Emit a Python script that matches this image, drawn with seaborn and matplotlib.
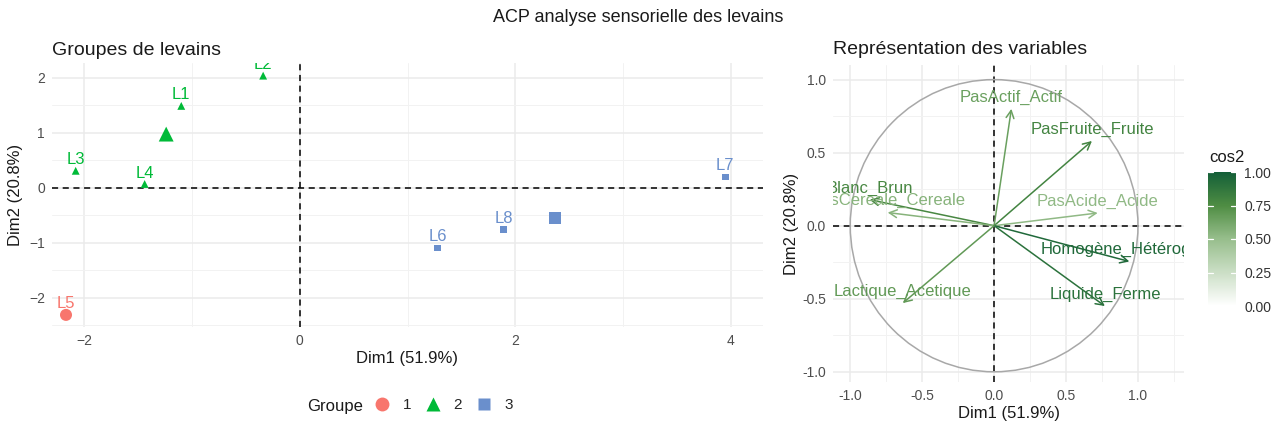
import numpy as np
import pandas as pd
import matplotlib
matplotlib.use('Agg')
import matplotlib.pyplot as plt
from matplotlib.colors import LinearSegmentedColormap, Normalize
from matplotlib.lines import Line2D
from matplotlib.patches import Circle
from matplotlib.ticker import MultipleLocator, FormatStrFormatter
from matplotlib.transforms import offset_copy
import seaborn as sns

# ============================================================
# Data
# ============================================================
individus = ['L1', 'L2', 'L3', 'L4', 'L5', 'L6', 'L7', 'L8']
ind_dim1 = [-1.10, -0.34, -2.08, -1.44, -2.17, 1.28, 3.95, 1.89]
ind_dim2 = [1.49, 2.04, 0.31, 0.07, -2.31, -1.09, 0.20, -0.76]
groupe = ['2', '2', '2', '2', '1', '3', '3', '3']

variables = ['PasActif_Actif', 'PasFruite_Fruite', 'Blanc_Brun', 'PasCereale_Cereale',
             'PasAcide_Acide', 'Homogène_Hétérogène', 'Liquide_Ferme', 'Lactique_Acetique']
var_dim1 = [0.12, 0.68, -0.865, -0.74, 0.72, 0.94, 0.77, -0.635]
var_dim2 = [0.80, 0.58, 0.178, 0.09, 0.087, -0.245, -0.55, -0.53]

group_order = ['1', '2', '3']
group_colors = {'1': '#F8766D', '2': '#00BA38', '3': '#6A8FCC'}
group_markers = {'1': 'o', '2': '^', '3': 's'}
small_sizes = {'1': 30, '2': 32, '3': 22}
big_sizes = {'1': 75, '2': 115, '3': 75}

df_ind = pd.DataFrame({'ind': individus, 'Dim1': ind_dim1, 'Dim2': ind_dim2, 'Groupe': groupe})
centres = df_ind.groupby('Groupe')[['Dim1', 'Dim2']].mean().reset_index()

df_var = pd.DataFrame({'var': variables, 'Dim1': var_dim1, 'Dim2': var_dim2})
df_var['cos2'] = df_var['Dim1'] ** 2 + df_var['Dim2'] ** 2

# ============================================================
# Figure
# ============================================================
sns.set_style('whitegrid')
plt.rcParams['font.family'] = ['Liberation Sans', 'DejaVu Sans']

W, H = 1276, 428
fig = plt.figure(figsize=(W / 100, H / 100), dpi=100)


def box(l, t, r, b):
    return [l / W, 1 - b / H, (r - l) / W, (b - t) / H]


def style_axis(ax):
    for s in ax.spines.values():
        s.set_visible(False)
    ax.grid(True, which='major', color='#EBEBEB', linewidth=1.1)
    ax.grid(True, which='minor', color='#F2F2F2', linewidth=0.7)
    ax.tick_params(axis='both', which='major', length=3, width=0.8, color='#333333',
                   labelcolor='#4D4D4D', labelsize=10, pad=2)
    ax.tick_params(axis='both', which='minor', length=0)
    ax.set_axisbelow(True)


# ---- Left panel : individuals ----
ax1 = fig.add_axes(box(52, 63, 763, 327))
style_axis(ax1)
ax1.set_xlim(-2.30, 4.30)
ax1.set_ylim(-2.53, 2.27)
ax1.xaxis.set_major_locator(MultipleLocator(2))
ax1.xaxis.set_minor_locator(MultipleLocator(1))
ax1.yaxis.set_major_locator(MultipleLocator(1))
ax1.yaxis.set_minor_locator(MultipleLocator(0.5))

ax1.axhline(0, color='black', linestyle=(0, (4, 3)), linewidth=1.1, zorder=1)
ax1.axvline(0, color='black', linestyle=(0, (4, 3)), linewidth=1.1, zorder=1)

sns.scatterplot(data=df_ind, x='Dim1', y='Dim2', hue='Groupe', style='Groupe', size='Groupe',
                hue_order=group_order, style_order=group_order, size_order=group_order,
                palette=group_colors, markers=group_markers, sizes=small_sizes,
                edgecolor='none', legend=False, ax=ax1, zorder=3)
sns.scatterplot(data=centres, x='Dim1', y='Dim2', hue='Groupe', style='Groupe', size='Groupe',
                hue_order=group_order, style_order=group_order, size_order=group_order,
                palette=group_colors, markers=group_markers, sizes=big_sizes,
                edgecolor='none', legend=False, ax=ax1, zorder=3)

lab_tr1 = offset_copy(ax1.transData, fig=fig, x=0, y=2.5, units='points')
for _, row in df_ind.iterrows():
    ax1.text(row['Dim1'], row['Dim2'], row['ind'], transform=lab_tr1,
             ha='center', va='bottom', fontsize=12, color=group_colors[row['Groupe']],
             clip_on=True)

ax1.set_xlabel('Dim1 (51.9%)', fontsize=12, color='#1A1A1A', labelpad=2)
ax1.set_ylabel('Dim2 (20.8%)', fontsize=12, color='#1A1A1A', labelpad=4)
ax1.set_title('Groupes de levains', fontsize=14, loc='left', color='#1A1A1A', pad=6)

# ---- Right panel : variables ----
ax2 = fig.add_axes(box(833, 65, 1184, 382))
style_axis(ax2)
ax2.set_xlim(-1.12, 1.32)
ax2.set_ylim(-1.07, 1.10)
ax2.xaxis.set_minor_locator(MultipleLocator(0.25))
ax2.yaxis.set_minor_locator(MultipleLocator(0.25))
ax2.set_xticks([-1, -0.5, 0, 0.5, 1])
ax2.set_yticks([-1, -0.5, 0, 0.5, 1])
ax2.xaxis.set_major_formatter(FormatStrFormatter('%.1f'))
ax2.yaxis.set_major_formatter(FormatStrFormatter('%.1f'))

ax2.add_patch(Circle((0, 0), 1, fill=False, edgecolor='#A8A8A8', linewidth=1.1, zorder=2))
ax2.axhline(0, color='black', linestyle=(0, (4, 3)), linewidth=1.1, zorder=1)
ax2.axvline(0, color='black', linestyle=(0, (4, 3)), linewidth=1.1, zorder=1)

cmap = LinearSegmentedColormap.from_list(
    'cos2', [(0, '#FFFFFF'), (0.5, '#97BE8C'), (0.75, '#4F8D43'), (1.0, '#135F38')])
norm = Normalize(0, 1)

lab_tr2 = offset_copy(ax2.transData, fig=fig, x=0, y=3, units='points')
for _, row in df_var.iterrows():
    c = cmap(norm(row['cos2']))
    ax2.annotate('', xy=(row['Dim1'], row['Dim2']), xytext=(0, 0),
                 arrowprops=dict(arrowstyle='->,head_length=0.55,head_width=0.28',
                                 color=c, linewidth=1.1, shrinkA=0, shrinkB=0),
                 zorder=3)
    ax2.text(row['Dim1'], row['Dim2'], row['var'], transform=lab_tr2,
             ha='center', va='bottom', fontsize=12, color=c, zorder=4, clip_on=True)

ax2.set_xlabel('Dim1 (51.9%)', fontsize=12, color='#1A1A1A', labelpad=2)
ax2.set_ylabel('Dim2 (20.8%)', fontsize=12, color='#1A1A1A', labelpad=2)
ax2.set_title('Représentation des variables', fontsize=14, loc='left', color='#1A1A1A', pad=8)

# ---- Colour bar ----
cax = fig.add_axes(box(1208, 172, 1236, 306))
cb = fig.colorbar(matplotlib.cm.ScalarMappable(norm=norm, cmap=cmap), cax=cax)
cb.outline.set_visible(False)
cb.set_ticks([0, 0.25, 0.5, 0.75, 1.0])
cb.set_ticklabels(['0.00', '0.25', '0.50', '0.75', '1.00'])
cax.tick_params(length=0, labelsize=10, labelcolor='#333333', pad=6)
for v in [0, 0.25, 0.5, 0.75, 1.0]:
    cax.plot([0, 0.18], [v, v], color='white', linewidth=0.9, transform=cax.get_yaxis_transform())
    cax.plot([0.82, 1], [v, v], color='white', linewidth=0.9, transform=cax.get_yaxis_transform())
fig.text(1209 / W, 1 - 158 / H, 'cos2', fontsize=12, color='#1A1A1A', va='center', ha='left')

# ---- Group legend ----
fig.text(307 / W, 1 - 406 / H, 'Groupe', fontsize=12, color='#1A1A1A', va='center', ha='left')
handles = [Line2D([], [], linestyle='none', marker=group_markers[g], markersize=10 if g != '3' else 9,
                  markerfacecolor=group_colors[g], markeredgecolor='none', label=g)
           for g in group_order]
fig.legend(handles=handles, ncol=3, loc='center left', bbox_to_anchor=(368 / W, 1 - 405 / H),
           frameon=False, fontsize=11, handletextpad=0.85, columnspacing=0.95,
           handlelength=1.0, borderaxespad=0)

fig.suptitle('ACP analyse sensorielle des levains', fontsize=13, y=1 - 18 / H, va='center',
             color='#1A1A1A')

plt.savefig('out.png', dpi=100)
plt.close()
